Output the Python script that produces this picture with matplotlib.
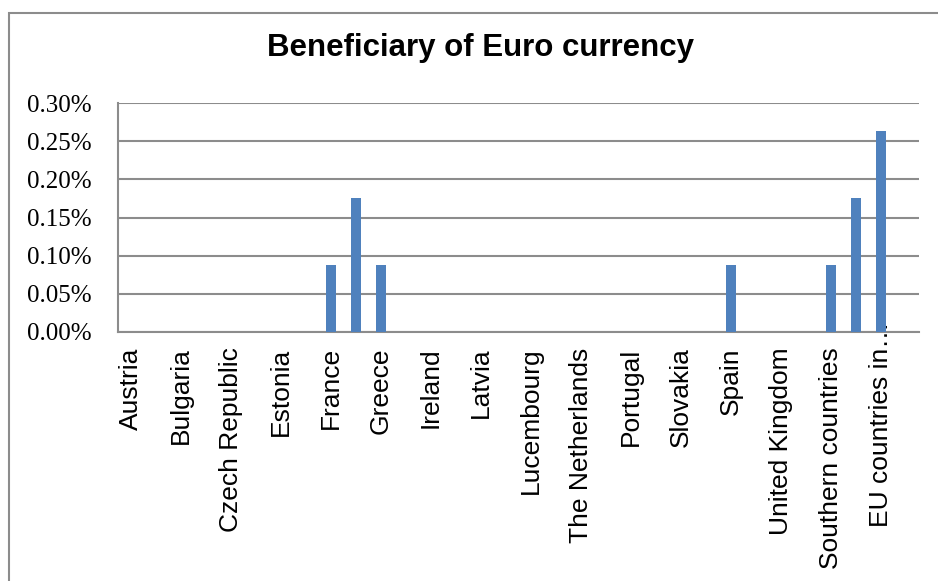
import matplotlib

matplotlib.use("Agg")
import matplotlib.pyplot as plt
import matplotlib.transforms as mtransforms
from matplotlib.patches import Rectangle
from matplotlib.ticker import FuncFormatter, MultipleLocator

# share of respondents naming each country / group as euro beneficiary
categories = [
    "Austria", "Belgium", "Bulgaria", "Cyprus", "Czech Republic", "Denmark",
    "Estonia", "Finland", "France", "Germany", "Greece", "Hungary",
    "Ireland", "Italy", "Latvia", "Lithuania", "Lucembourg", "Malta",
    "The Netherlands", "Poland", "Portugal", "Romania", "Slovakia", "Slovenia",
    "Spain", "Sweden", "United Kingdom", "Northern countries",
    "Southern countries", "Eastern countries", "EU countries in\u2026",
    "EU countries outside euro",
]
values = [
    0, 0, 0, 0, 0, 0,
    0, 0, 0.000877, 0.001754, 0.000877, 0,
    0, 0, 0, 0, 0, 0,
    0, 0, 0, 0, 0, 0,
    0.000877, 0, 0, 0,
    0.000877, 0.001754, 0.002632,
    0,
]
title = "Beneficiary of Euro currency"

BAR = "#4F81BD"
GRID = "#8C8C8C"
W, H = 938, 581

fig = plt.figure(figsize=(W / 100, H / 100), dpi=100)
ax = fig.add_axes([118 / W, 1 - 332 / H, (919 - 118) / W, (332 - 103) / H])

x = list(range(len(categories)))
ax.bar(x, values, width=0.4, color=BAR, zorder=3)

ax.set_xlim(-0.5, len(categories) - 0.5)
ax.set_ylim(0, 0.003)
ax.yaxis.set_major_locator(MultipleLocator(0.0005))
ax.yaxis.set_major_formatter(FuncFormatter(lambda v, _: f"{v * 100:.2f}%"))
ax.grid(axis="y", color=GRID, lw=1.5, zorder=0)
ax.grid(axis="x", visible=False)

for side in ("top", "right"):
    ax.spines[side].set_visible(False)
for side in ("left", "bottom"):
    ax.spines[side].set_color(GRID)
    ax.spines[side].set_linewidth(1.5)

# only every other category gets a label, like the spreadsheet did
ax.set_xticks(x[::2])
ax.set_xticklabels(categories[::2], rotation=90, family="Liberation Sans",
                   fontsize=19, va="top", ha="center")
ax.tick_params(axis="x", length=0, pad=11)
ax.tick_params(axis="y", length=0, pad=19, labelsize=18)
for lab in ax.get_yticklabels():
    lab.set_family("Liberation Serif")

# the truncated last label spills up past its slot
last = ax.get_xticklabels()[-1]
last.set_transform(last.get_transform()
                   + mtransforms.ScaledTranslation(0, 26 / 100, fig.dpi_scale_trans))

fig.text(480 / W, 1 - 56 / H, title, ha="center", va="baseline",
         fontsize=22.5, fontweight="bold", family="Liberation Sans")

# chart-area frame, left and top edges inside the canvas
fig.patches.append(Rectangle((9 / W, -0.1), 1.2, 1 - 13 / H + 0.1,
                             transform=fig.transFigure, fill=False,
                             edgecolor=GRID, lw=1.5))

fig.savefig("out.png", dpi=100)
